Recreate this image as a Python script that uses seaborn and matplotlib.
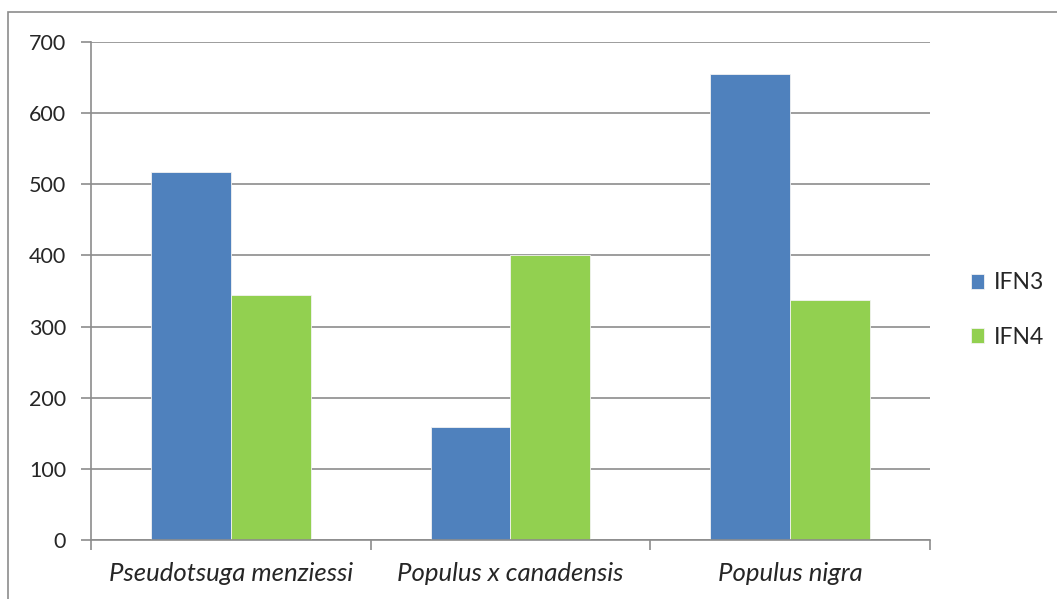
"""
Grouped bar chart: IFN3 vs IFN4 per species
"""

import pandas as pd
import matplotlib
matplotlib.use('Agg')
import matplotlib.pyplot as plt
from matplotlib.patches import Rectangle
import seaborn as sns

species = ['Pseudotsuga menziessi', 'Populus x canadensis', 'Populus nigra']
ifn3 = [517, 159, 655]
ifn4 = [344, 400, 338]
series = ['IFN3', 'IFN4']
y_ticks = [0, 100, 200, 300, 400, 500, 600, 700]

df = pd.DataFrame({
    'species': species * 2,
    'value': ifn3 + ifn4,
    'serie': [series[0]] * 3 + [series[1]] * 3,
})

sns.set_style('white')
plt.rcParams['font.family'] = ['Lato', 'DejaVu Sans']

fig = plt.figure(figsize=(10.57, 5.99), dpi=100)
ax = fig.add_axes([91 / 1057, 1 - 540 / 599, (930 - 91) / 1057, (540 - 42) / 599])

sns.barplot(x='species', y='value', hue='serie', data=df, ax=ax,
            palette=['#4F81BD', '#92D050'], width=0.572, saturation=1,
            edgecolor='#f2f2f2', linewidth=0.6)

ax.set_ylim(0, 700)
ax.set_xlim(-0.5, 2.5)
ax.set_yticks(y_ticks)
ax.set_yticklabels([str(t) for t in y_ticks], fontsize=15.5)
ax.yaxis.grid(True, color='#8c8c8c', linewidth=1.2)
ax.set_axisbelow(True)

# labels centred, tick marks on category boundaries
ax.set_xticks([0, 1, 2])
ax.set_xticklabels(species, fontsize=18.5, style='italic')
ax.set_xticks([-0.5, 0.5, 1.5, 2.5], minor=True)
ax.tick_params(axis='x', which='major', length=0, pad=16)
ax.tick_params(axis='x', which='minor', length=7, width=1.2, color='#8c8c8c', direction='out')
ax.tick_params(axis='y', which='major', length=7, width=1.2, color='#8c8c8c', direction='out', pad=11)
ax.tick_params(axis='x', bottom=True, which='minor')
ax.tick_params(axis='y', left=True)

ax.set_xlabel('')
ax.set_ylabel('')
for s in ['top', 'right']:
    ax.spines[s].set_visible(False)
for s in ['left', 'bottom']:
    ax.spines[s].set_color('#8c8c8c')
    ax.spines[s].set_linewidth(1.2)

ax.legend(loc='center left', bbox_to_anchor=(950 / 1057, 1 - 310 / 599),
          bbox_transform=fig.transFigure, frameon=False, fontsize=16.5,
          handlelength=0.6, handleheight=0.6, handletextpad=0.4, labelspacing=1.45)

# outer chart frame
fig.patches.append(Rectangle((8 / 1057, -0.05), 1.1, 1 - 12 / 599 + 0.05,
                             transform=fig.transFigure, fill=False,
                             edgecolor='#8c8c8c', linewidth=1.2))

plt.savefig('out.png', dpi=100)
